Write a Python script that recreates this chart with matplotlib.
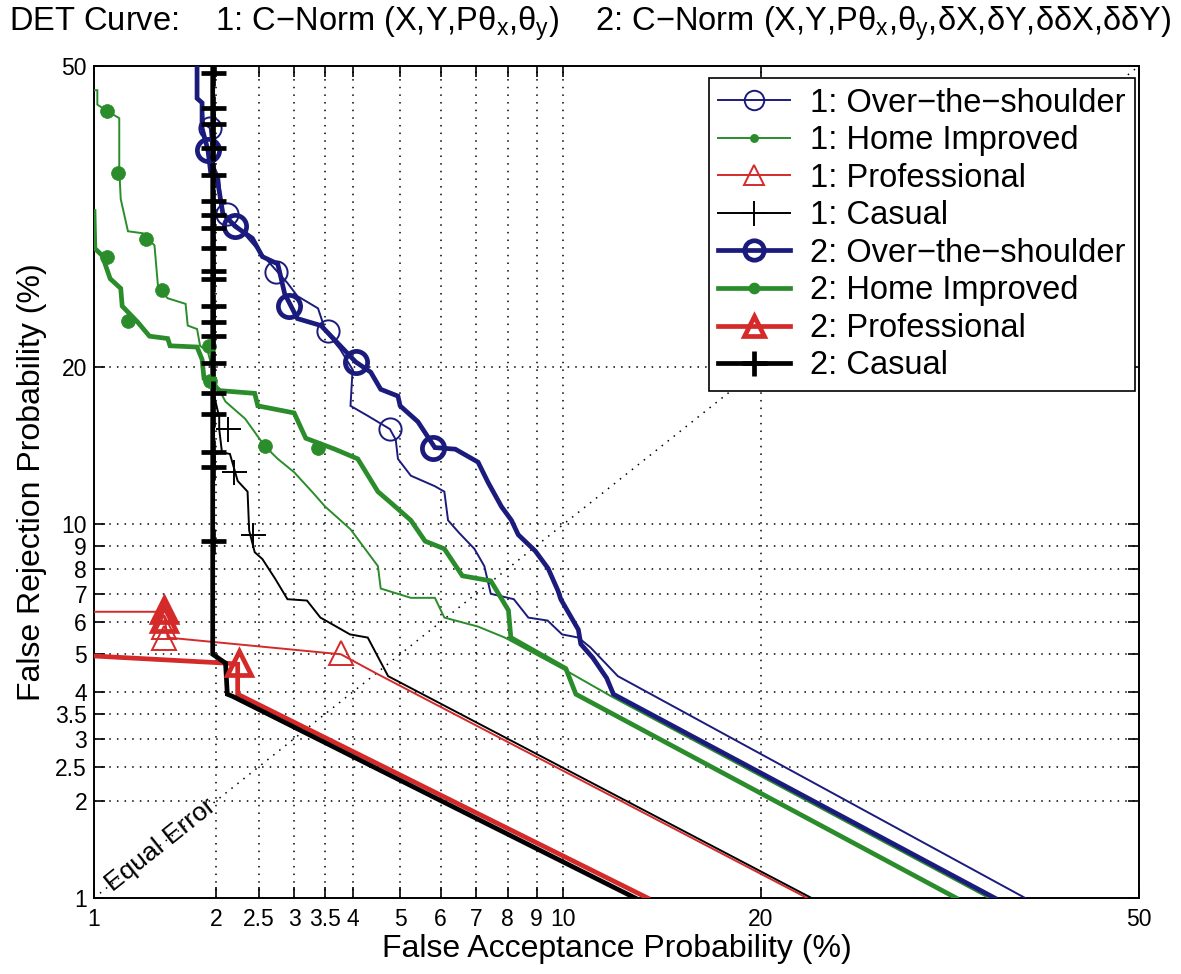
import numpy as np
import matplotlib
matplotlib.use('Agg')
import matplotlib.pyplot as plt
from matplotlib.lines import Line2D
from statistics import NormalDist

plt.rcParams['font.family'] = ['Liberation Sans', 'DejaVu Sans']
plt.rcParams['mathtext.fontset'] = 'custom'
plt.rcParams['mathtext.rm'] = 'Liberation Sans'
plt.rcParams['mathtext.default'] = 'regular'

# ---- data (percent) ----
ticks = [1, 2, 2.5, 3, 3.5, 4, 5, 6, 7, 8, 9, 10, 20, 50]
tick_labels = ['1', '2', '2.5', '3', '3.5', '4', '5', '6', '7', '8', '9', '10', '20', '50']

# 1: Over-the-shoulder
fa_ots1 = [1.79, 1.79, 1.85, 1.87, 1.93, 1.96, 2.03, 2.06, 2.24, 2.42, 2.62, 2.9, 3.05, 3.38, 3.51,
           3.77, 4.0, 3.96, 4.3, 4.77, 4.9, 4.95, 5.25, 5.85, 6.1, 6.2, 6.5, 6.95, 7.25, 7.45,
           8.2, 8.7, 9.4, 9.95, 10.6, 11.1, 12.3, 40.0]
fr_ots1 = [50, 46.4, 45.9, 43.6, 43.1, 39.3, 37.7, 34.0, 32.7, 31.0, 29.3, 27.2, 26.0, 24.9, 22.9,
           21.4, 19.8, 17.1, 16.4, 15.5, 14.8, 13.6, 12.6, 12.0, 11.7, 10.2, 9.6, 8.85, 8.1, 7.0,
           6.8, 6.15, 6.05, 5.6, 5.5, 5.2, 4.4, 1.0]
mk_fa_ots1 = [1.93, 2.12, 2.73, 3.55, 4.77]
mk_fr_ots1 = [43.1, 33.9, 28.2, 22.9, 15.5]

# 2: Over-the-shoulder
fa_ots2 = [1.80, 1.80, 1.85, 1.85, 1.91, 1.94, 2.01, 2.07, 2.21, 2.42, 2.55, 2.76, 2.86, 3.05, 3.43,
           3.77, 4.06, 4.36, 4.57, 4.95, 5.0, 5.42, 5.85, 6.4, 7.06, 7.37, 7.79, 8.12, 8.35, 8.95,
           9.42, 9.8, 9.9, 10.6, 10.7, 11.2, 11.8, 12.1, 37.4]
fr_ots2 = [50, 46.4, 45.9, 43.1, 40.7, 38.2, 37.5, 34.0, 32.7, 31.5, 29.7, 29.0, 26.2, 24.0, 23.4,
           21.7, 20.4, 19.6, 18.3, 17.8, 17.1, 16.0, 14.3, 14.2, 13.4, 12.2, 10.9, 10.2, 9.5, 8.75,
           8.0, 7.1, 6.8, 5.75, 5.3, 4.9, 4.35, 3.95, 1.0]
mk_fa_ots2 = [1.91, 2.21, 2.93, 4.06, 5.8]
mk_fr_ots2 = [40.7, 32.7, 25.1, 20.4, 14.3]

# 1: Home Improved
fa_hi1 = [1.0, 1.02, 1.02, 1.08, 1.16, 1.16, 1.17, 1.22, 1.33, 1.42, 1.45, 1.53, 1.69, 1.71, 1.80,
          1.83, 1.91, 1.93, 1.98, 2.1, 2.33, 2.58, 2.76, 3.0, 3.28, 3.5, 3.96, 4.51, 4.57, 5.25,
          5.85, 6.1, 7.06, 7.9, 10.1, 12.0, 36.9]
fr_hi1 = [47.3, 47.3, 45.7, 45.0, 44.2, 38.7, 35.5, 32.2, 32.0, 30.8, 26.7, 25.8, 25.3, 23.4, 23.1,
          21.7, 21.2, 20.6, 18.9, 17.4, 16.2, 14.4, 13.6, 12.8, 11.7, 10.9, 9.76, 8.1, 7.2, 6.85,
          6.85, 6.15, 5.85, 5.5, 4.55, 3.9, 1.0]
mk_fa_hi1 = [1.08, 1.15, 1.35, 1.48, 1.92, 2.58]
mk_fr_hi1 = [45.0, 38.2, 31.4, 26.6, 21.7, 14.4]

# 2: Home Improved
fa_hi2 = [1.0, 1.005, 1.05, 1.10, 1.17, 1.18, 1.29, 1.38, 1.53, 1.55, 1.80, 1.85, 1.87, 2.04, 2.45,
          2.49, 3.0, 3.18, 3.67, 4.1, 4.51, 4.79, 5.25, 5.6, 6.1, 6.6, 7.45, 8.02, 8.1, 10.1,
          10.5, 34.2]
fr_hi2 = [34.2, 30.5, 29.8, 27.6, 26.7, 25.1, 23.7, 22.5, 22.3, 21.7, 21.6, 20.6, 19.1, 18.2, 18.0,
          17.1, 16.6, 14.9, 14.2, 13.6, 11.7, 11.1, 10.2, 9.2, 8.85, 7.7, 7.5, 6.4, 5.5, 4.6,
          3.95, 1.0]
mk_fa_hi2 = [1.08, 1.22, 1.93, 3.38]
mk_fr_hi2 = [29.7, 23.8, 18.9, 14.3]

# 1: Professional
fa_pro1 = [1.0, 1.44, 1.5, 1.53, 3.78, 4.51, 23.0]
fr_pro1 = [6.35, 6.35, 6.2, 5.5, 5.0, 4.45, 1.0]
mk_fa_pro1 = [1.5, 1.5, 3.78]
mk_fr_pro1 = [5.85, 5.5, 5.05]

# 2: Professional
fa_pro2 = [1.0, 2.1, 2.24, 2.24, 13.7]
fr_pro2 = [4.95, 4.75, 4.72, 3.95, 1.0]
mk_fa_pro2 = [1.5, 1.5, 2.26]
mk_fr_pro2 = [6.4, 6.1, 4.75]

# 1: Casual
fa_cas1 = [1.97, 1.97, 2.03, 2.03, 2.06, 2.15, 2.24, 2.36, 2.38, 2.45, 2.55, 2.72, 2.9, 3.2, 3.42,
           3.65, 3.95, 4.3, 4.73, 23.3]
fr_cas1 = [50, 18.0, 16.3, 15.5, 14.0, 13.9, 12.3, 11.7, 9.7, 8.7, 8.4, 7.6, 6.8, 6.75, 6.15,
           5.9, 5.6, 5.5, 4.4, 1.0]
mk_fa_cas1 = [2.13, 2.2, 2.43]
mk_fr_cas1 = [15.5, 12.8, 9.5]

# 2: Casual
fa_cas2 = [1.96, 1.96, 2.1, 2.12, 2.18, 13.1]
fr_cas2 = [50, 5.0, 4.75, 3.95, 3.9, 1.0]
mk_fr_cas2 = [49.2, 45.3, 43.6, 40.9, 38.0, 35.3, 33.8, 32.5, 30.5, 28.3, 27.6, 25.1, 23.7,
              22.5, 20.3, 18.0, 16.5, 14.0, 13.1, 9.2]
mk_fa_cas2 = [1.96] * len(mk_fr_cas2)

BLUE = '#1b1b7d'
GREEN = '#2a8c2a'
RED = '#d42a2a'
BLACK = 'black'

# ---- normal deviate (probit) scale ----
_nd = NormalDist()


def probit(p):
    q = np.clip(np.asarray(p, dtype=float) / 100.0, 1e-9, 1 - 1e-9)
    return np.vectorize(_nd.inv_cdf, otypes=[float])(q)


def unprobit(z):
    return np.vectorize(_nd.cdf, otypes=[float])(np.asarray(z, dtype=float)) * 100.0


W, H = 1181, 974
fig = plt.figure(figsize=(W / 100, H / 100), dpi=100)
ax = fig.add_axes([94 / W, 1 - 898 / H, (1139 - 94) / W, (898 - 66) / H])
ax.set_xscale('function', functions=(probit, unprobit))
ax.set_yscale('function', functions=(probit, unprobit))

# equal error diagonal
ax.plot([1, 50], [1, 50], color='black', lw=1.1, ls=(0, (1, 4)), zorder=1)
ax.text(1.47, 1.47, 'Equal Error', rotation=38.6, rotation_mode='anchor',
        ha='center', va='center', fontsize=19)

thin, thick = 1.4, 3.4
curves = [
    (fa_ots1, fr_ots1, mk_fa_ots1, mk_fr_ots1, BLUE, thin, 'o', 16, 'none'),
    (fa_hi1, fr_hi1, mk_fa_hi1, mk_fr_hi1, GREEN, thin, 'o', 10, GREEN),
    (fa_pro1, fr_pro1, mk_fa_pro1, mk_fr_pro1, RED, thin, '^', 17, 'none'),
    (fa_cas1, fr_cas1, mk_fa_cas1, mk_fr_cas1, BLACK, thin, '+', 18, 'none'),
    (fa_ots2, fr_ots2, mk_fa_ots2, mk_fr_ots2, BLUE, thick, 'o', 16, 'none'),
    (fa_hi2, fr_hi2, mk_fa_hi2, mk_fr_hi2, GREEN, thick, 'o', 10, GREEN),
    (fa_pro2, fr_pro2, mk_fa_pro2, mk_fr_pro2, RED, thick, '^', 17, 'none'),
    (fa_cas2, fr_cas2, mk_fa_cas2, mk_fr_cas2, BLACK, thick, '+', 18, 'none'),
]
for fa, fr, mfa, mfr, col, lw, mk, ms, mfc in curves:
    ax.plot(fa, fr, color=col, lw=lw, solid_joinstyle='miter', zorder=3)
    ax.plot(mfa, mfr, ls='none', marker=mk, ms=ms, mfc=mfc, mec=col,
            mew=lw if mk != 'o' or mfc == 'none' else 0.5, zorder=4)

ax.set_xlim(1, 50)
ax.set_ylim(1, 50)
ax.set_xticks(ticks)
ax.set_xticklabels(tick_labels)
ax.set_yticks(ticks)
ax.set_yticklabels(tick_labels)
ax.minorticks_off()
ax.tick_params(which='both', direction='in', length=8, width=1.2, top=True, right=True,
               labelsize=16.5, colors='black')
ax.tick_params(axis='x', pad=7)
ax.tick_params(axis='y', pad=5)
ax.grid(True, color='black', lw=1.1, ls=(0, (1, 4)))
ax.set_axisbelow(True)
for s in ax.spines.values():
    s.set_linewidth(1.4)

ax.set_xlabel('False Acceptance Probability (%)', fontsize=23, labelpad=2)
ax.set_ylabel('False Rejection Probability (%)', fontsize=23, labelpad=6)

fig.text(0.5, 1 - 24 / H,
         'DET Curve:    1: C\u2212Norm (X,Y,P\u03b8$_x$,\u03b8$_y$)    '
         '2: C\u2212Norm (X,Y,P\u03b8$_x$,\u03b8$_y$,\u03b4X,\u03b4Y,\u03b4\u03b4X,\u03b4\u03b4Y)',
         ha='center', va='center', fontsize=23.5)

# legend
labels = ['1: Over\u2212the\u2212shoulder', '1: Home Improved', '1: Professional', '1: Casual',
          '2: Over\u2212the\u2212shoulder', '2: Home Improved', '2: Professional', '2: Casual']
styles = [(BLUE, thin, 'o', 14, 'none'), (GREEN, thin, 'o', 5, GREEN),
          (RED, thin, '^', 15, 'none'), (BLACK, thin, '+', 18, 'none'),
          (BLUE, thick, 'o', 14, 'none'), (GREEN, thick, 'o', 5, GREEN),
          (RED, thick, '^', 15, 'none'), (BLACK, thick, '+', 18, 'none')]
handles = [Line2D([], [], color=c, lw=lw, marker=m, ms=ms, mfc=mfc, mec=c, mew=lw)
           for c, lw, m, ms, mfc in styles]
leg = ax.legend(handles, labels, loc='upper right', bbox_to_anchor=(0.9962, 0.9856),
                borderaxespad=0, fontsize=23.5, handlelength=2.2, handletextpad=0.6,
                labelspacing=0.2, borderpad=0.3, fancybox=False, framealpha=1,
                edgecolor='black')
leg.get_frame().set_linewidth(1.2)

fig.savefig('out.png', dpi=100)
